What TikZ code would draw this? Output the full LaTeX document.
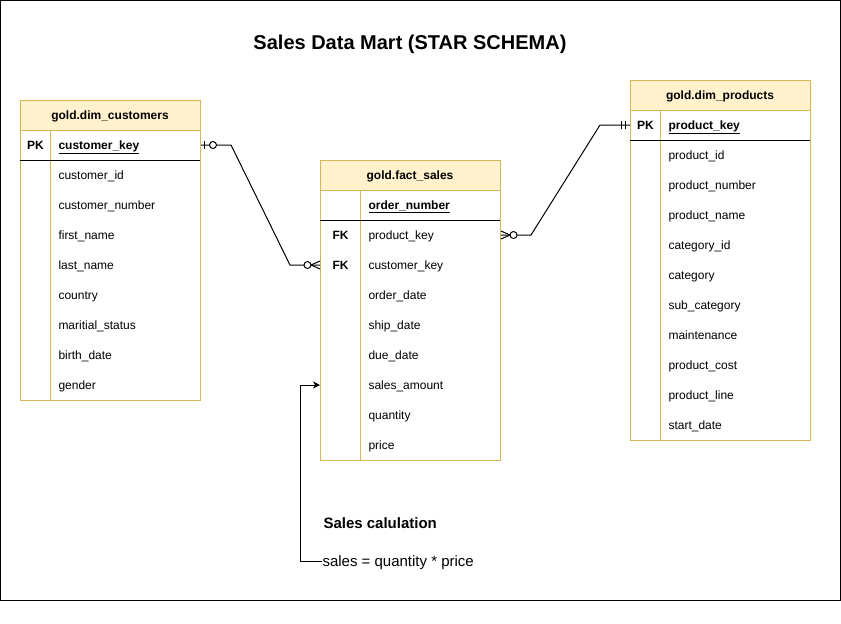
\documentclass[tikz,border=0pt]{standalone}
\usepackage{fontspec}
\setmainfont{Liberation Sans}
\usepackage{tikz}
\usetikzlibrary{arrows.meta,positioning}
\definecolor{hdrfill}{HTML}{FFF2CC}
\definecolor{hdrline}{HTML}{D6B656}
\tikzset{
    %Define standard arrow tip
    >={Stealth[length=7pt,width=7pt,inset=2pt]},
    %Define styles for table parts
    tblhead/.style={
             draw=hdrline, fill=hdrfill,
             minimum width=180pt, minimum height=30pt, inner sep=0pt,
             text height=10pt, text depth=2pt,
             font=\fontsize{12}{14}\selectfont\bfseries},
    keycell/.style={
             minimum width=#1, minimum height=30pt, inner sep=0pt,
             anchor=west, text height=10pt, text depth=2pt,
             font=\fontsize{12}{14}\selectfont\bfseries},
    fieldcell/.style={
             text width=#1, align=left, anchor=west,
             inner xsep=8pt, inner ysep=0pt, minimum height=30pt,
             text height=10pt, text depth=2pt,
             font=\fontsize{12}{14}\selectfont},
    pkcell/.style={
             fieldcell=#1,
             font=\fontsize{12}{14}\selectfont\bfseries},
    tblframe/.style={draw=hdrline},
    calcnode/.style={
             anchor=west, inner sep=0pt,
             text height=12pt, text depth=2pt,
             font=\fontsize{15}{18}\selectfont},
    % Define relation end marks
    oneopt/.pic={
            \draw (3,-4) -- (3,4);
            \draw[fill=white] (12,0) circle (3.5);},
    zeromany/.pic={
            \draw (0,-4) -- (9,0) -- (0,4);
            \draw[fill=white] (12.5,0) circle (3.5);},
    onlyone/.pic={
            \draw (5,-4) -- (5,4);
            \draw (9,-4) -- (9,4);}
}
\begin{document}
\begin{tikzpicture}[x=1pt, y=-1pt, line width=1pt]
 \useasboundingbox (0,0) rectangle (841,624);
 \draw (0.5,0.5) rectangle (840,600);
 \node[font=\fontsize{20}{24}\selectfont\bfseries] (title) at (410,44) {Sales Data Mart (STAR SCHEMA)};

 % customers
 \draw[tblframe] (20,130) rectangle (200,400);
 \draw[tblframe] (50,130) -- (50,400);
 \draw (20,160) -- (200,160);
 \node[tblhead] (custhead) at (110,115) {gold.dim\_customers};
 \node[keycell=30pt] (custkeypk) at (20,145) {PK};
 \node[pkcell=134pt] (custpk) at (50,145) {\underline{customer\_key}};
 \foreach \f [count=\i] in {customer\_id, customer\_number, first\_name, last\_name,
                            country, maritial\_status, birth\_date, gender}
   \node[fieldcell=134pt] (cust\i) at (50,145+30*\i) {\f};

 % fact
 \draw[tblframe] (320,190) rectangle (500,460);
 \draw[tblframe] (360,190) -- (360,460);
 \draw (320,220) -- (500,220);
 \node[tblhead] (facthead) at (410,175) {gold.fact\_sales};
 \node[pkcell=124pt] (factpk) at (360,205) {\underline{order\_number}};
 \foreach \k/\f [count=\i] in {FK/product\_key, FK/customer\_key, /order\_date, /ship\_date,
                               /due\_date, /sales\_amount, /quantity, /price}{
   \node[keycell=40pt] (factkey\i) at (320,205+30*\i) {\k};
   \node[fieldcell=124pt] (fact\i) at (360,205+30*\i) {\f};
 }

 % products
 \draw[tblframe] (630,110) rectangle (810,440);
 \draw[tblframe] (660,110) -- (660,440);
 \draw (630,140) -- (810,140);
 \node[tblhead] (prodhead) at (720,95) {gold.dim\_products};
 \node[keycell=30pt] (prodkeypk) at (630,125) {PK};
 \node[pkcell=134pt] (prodpk) at (660,125) {\underline{product\_key}};
 \foreach \f [count=\i] in {product\_id, product\_number, product\_name, category\_id, category,
                            sub\_category, maintenance, product\_cost, product\_line, start\_date}
   \node[fieldcell=134pt] (prod\i) at (660,125+30*\i) {\f};

 % relations
 \draw (custpk.east) -- ++(30,0) -- ([xshift=-30pt]factkey2.west) -- (factkey2.west);
 \draw (prodkeypk.west) -- ++(-30,0) -- ([xshift=30pt]fact1.east) -- (fact1.east);
 \pic at (custpk.east) {oneopt};
 \pic[rotate=180] at (factkey2.west) {zeromany};
 \pic at (fact1.east) {zeromany};
 \pic[rotate=180] at (prodkeypk.west) {onlyone};

 % calculation note
 \node[calcnode, font=\fontsize{15}{18}\selectfont\bfseries] (calctitle) at (323,523) {Sales calulation};
 \node[calcnode] (calcformula) at (322,561) {sales = quantity * price};
 \draw[->] (calcformula.west) -- ++(-22,0) |- (factkey6.west);
\end{tikzpicture}
\end{document}
